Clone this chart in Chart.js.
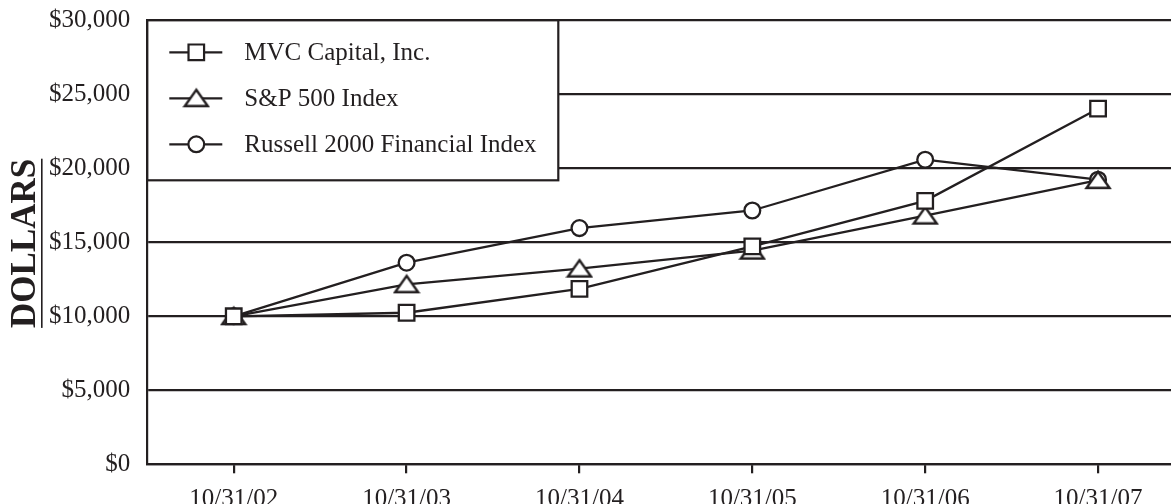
<!DOCTYPE html>
<html>
<head>
<meta charset="utf-8">
<script src="https://cdn.jsdelivr.net/npm/chart.js@4.4.0/dist/chart.umd.min.js"></script>
<style>
  html, body { margin: 0; padding: 0; background: #fff; overflow: hidden; }
  #wrap { width: 1171px; height: 504px; position: relative; }
</style>
</head>
<body>
<div id="wrap"><canvas id="myChart"></canvas></div>
<script>
const dates = ['10/31/02', '10/31/03', '10/31/04', '10/31/05', '10/31/06', '10/31/07'];
const seriesNames = ['MVC Capital, Inc.', 'S&P 500 Index', 'Russell 2000 Financial Index'];
const mvcValues = [10000, 10240, 11850, 14720, 17800, 24030];
const spValues = [10000, 12160, 13220, 14430, 16800, 19200];
const russellValues = [10000, 13620, 15960, 17150, 20580, 19230];
const yTicks = [0, 5000, 10000, 15000, 20000, 25000, 30000];

const ink = '#231f20';
const serif = "'Liberation Serif', 'Times New Roman', serif";

// triangle drawn centred in its box, like the printed marker
function makeTriangle() {
  const c = document.createElement('canvas');
  c.width = 28;
  c.height = 22;
  const g = c.getContext('2d');
  g.beginPath();
  g.moveTo(14, 2.5);
  g.lineTo(25.5, 18.8);
  g.lineTo(2.5, 18.8);
  g.closePath();
  g.fillStyle = '#fff';
  g.fill();
  g.lineWidth = 2.4;
  g.strokeStyle = ink;
  g.stroke();
  return c;
}
const triangle = makeTriangle();

function toPoints(values) {
  return values.map((v, i) => ({x: i, y: v}));
}

const boxLegend = {
  id: 'boxLegend',
  afterDatasetsDraw(chart) {
    const ctx = chart.ctx;
    const area = chart.chartArea;
    const x0 = area.left, y0 = area.top;
    ctx.save();
    ctx.fillStyle = '#fff';
    ctx.fillRect(x0, y0, 411, 160);
    ctx.lineWidth = 2.2;
    ctx.strokeStyle = ink;
    ctx.strokeRect(x0, y0, 411, 160);
    chart.data.datasets.forEach((ds, i) => {
      const y = y0 + 32 + i * 46;
      ctx.beginPath();
      ctx.moveTo(x0 + 22, y);
      ctx.lineTo(x0 + 75, y);
      ctx.lineWidth = 2.2;
      ctx.strokeStyle = ink;
      ctx.stroke();
      ctx.fillStyle = '#fff';
      Chart.helpers.drawPoint(ctx, {
        pointStyle: ds.pointStyle,
        radius: ds.pointRadius,
        borderWidth: 2.3,
        rotation: 0
      }, x0 + 49, y);
      ctx.fillStyle = ink;
      ctx.font = '25px ' + serif;
      ctx.textAlign = 'left';
      ctx.textBaseline = 'middle';
      ctx.fillText(ds.label, x0 + 97, y + 1);
    });
    ctx.restore();
  }
};

const dollarsTitle = {
  id: 'dollarsTitle',
  afterDraw(chart) {
    const ctx = chart.ctx;
    const area = chart.chartArea;
    ctx.save();
    ctx.translate(35, (area.top + area.bottom) / 2 + 1);
    ctx.rotate(-Math.PI / 2);
    ctx.font = 'bold 35px ' + serif;
    ctx.fillStyle = ink;
    ctx.textAlign = 'center';
    ctx.textBaseline = 'alphabetic';
    ctx.fillText('DOLLARS', 0, 0);
    const w = ctx.measureText('DOLLARS').width;
    ctx.fillRect(-w / 2, 6, w, 1.6);
    ctx.restore();
  }
};

const ctx = document.getElementById('myChart');
Chart.defaults.font.family = serif;
Chart.defaults.font.size = 25;
Chart.defaults.color = ink;

new Chart(ctx, {
  type: 'line',
  data: {
    datasets: [{
      label: seriesNames[0],
      data: toPoints(mvcValues),
      pointStyle: 'rect',
      pointRadius: 11
    }, {
      label: seriesNames[1],
      data: toPoints(spValues),
      pointStyle: triangle,
      pointRadius: 10
    }, {
      label: seriesNames[2],
      data: toPoints(russellValues),
      pointStyle: 'circle',
      pointRadius: 7.9
    }].map(ds => Object.assign(ds, {
      borderColor: ink,
      backgroundColor: '#fff',
      pointBackgroundColor: '#fff',
      pointBorderColor: ink,
      pointBorderWidth: 2.3,
      borderWidth: 2.3,
      tension: 0,
      fill: false
    }))
  },
  options: {
    responsive: true,
    maintainAspectRatio: false,
    animation: false,
    events: [],
    layout: {
      autoPadding: false,
      padding: {left: 0, right: 0, top: 20.3, bottom: 0}
    },
    scales: {
      x: {
        type: 'linear',
        min: -0.5,
        max: 5.422,
        afterBuildTicks: (scale) => {
          scale.ticks = dates.map((_, i) => ({value: i}));
        },
        afterFit: (scale) => {
          scale.height = 39.7;
          scale.paddingLeft = 0;
          scale.paddingRight = 0;
        },
        ticks: {
          callback: (v) => dates[v],
          padding: 11,
          maxRotation: 0,
          autoSkip: false,
          color: ink
        },
        grid: {
          drawOnChartArea: false,
          drawTicks: true,
          tickLength: 9,
          color: ink,
          lineWidth: 2.2
        },
        border: {display: true, color: ink, width: 2.2}
      },
      y: {
        min: 0,
        max: 30000,
        afterBuildTicks: (scale) => {
          scale.ticks = yTicks.map(v => ({value: v}));
        },
        afterFit: (scale) => {
          scale.width = 147.3;
          scale.paddingTop = 0;
          scale.paddingBottom = 0;
        },
        ticks: {
          callback: (v) => '$' + v.toLocaleString('en-US'),
          padding: 17,
          color: ink
        },
        grid: {
          drawTicks: false,
          color: ink,
          lineWidth: 2.2
        },
        border: {display: true, color: ink, width: 2.2}
      }
    },
    plugins: {
      legend: {display: false},
      tooltip: {enabled: false}
    }
  },
  plugins: [boxLegend, dollarsTitle]
});
</script>
</body>
</html>
